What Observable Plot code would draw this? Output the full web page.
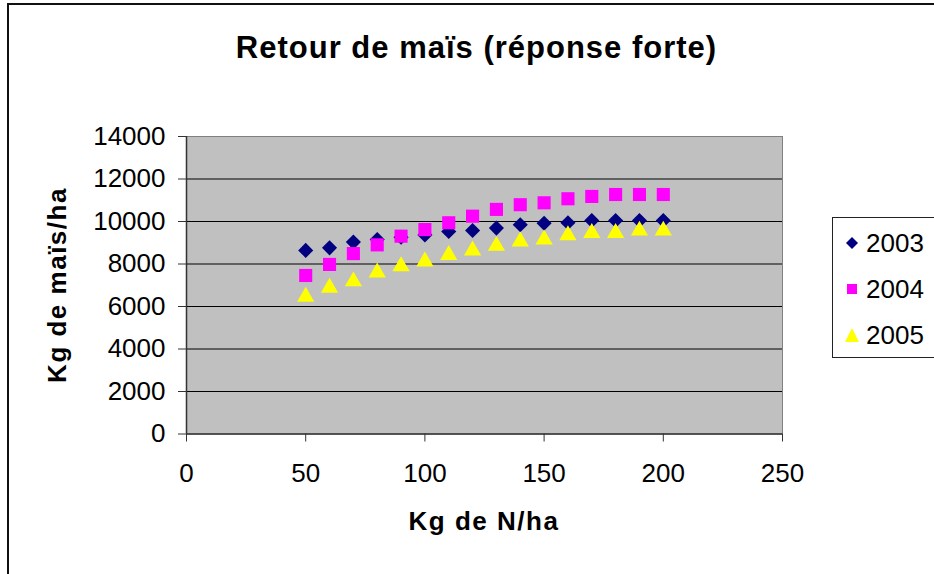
<!DOCTYPE html>
<html>
<head>
<meta charset="utf-8">
<script src="https://cdn.jsdelivr.net/npm/d3@7"></script>
<script src="https://cdn.jsdelivr.net/npm/@observablehq/plot@0.6"></script>
<style>
  html, body { margin: 0; padding: 0; background: #fff; overflow: hidden; }
  #wrap { position: relative; width: 934px; height: 574px; font-family: "Liberation Sans", Arial, sans-serif; }
  #border { position: absolute; left: 7px; top: 3px; width: 1000px; height: 1000px; border-left: 2px solid #111; border-top: 2px solid #111; }
  #title { position: absolute; left: 0; width: 953px; top: 30px; text-align: center; font-weight: bold; font-size: 31px; letter-spacing: 1px; color: #000; }
  #xtitle { position: absolute; left: 0; width: 968px; top: 506px; text-align: center; font-weight: bold; font-size: 26px; letter-spacing: 1.5px; }
  #ytitle { position: absolute; left: 57px; top: 285px; transform: translate(-50%, -50%) rotate(-90deg); white-space: nowrap; font-weight: bold; font-size: 26px; letter-spacing: 1.5px; }
  #legend { position: absolute; left: 832px; top: 217px; width: 120px; height: 139px; border: 1px solid #222; background: #fff; }
  .item { position: absolute; left: 12px; height: 30px; display: flex; align-items: center; font-size: 26px; }
  .item svg { margin-right: 7px; }
  #chart { position: absolute; left: 0; top: 0; }
</style>
</head>
<body>
<div id="wrap">
  <div id="border"></div>
  <div id="chart"></div>
  <div id="title">Retour de maïs (réponse forte)</div>
  <div id="xtitle">Kg de N/ha</div>
  <div id="ytitle">Kg de maïs/ha</div>
  <div id="legend"></div>
</div>
<script>
const nRates = [50, 60, 70, 80, 90, 100, 110, 120, 130, 140, 150, 160, 170, 180, 190, 200];
const years = ["2003", "2004", "2005"];
const y2003 = [8640, 8760, 9030, 9150, 9260, 9370, 9530, 9580, 9690, 9850, 9920, 9940, 10050, 10050, 10050, 10050];
const y2004 = [7460, 7980, 8490, 8900, 9310, 9620, 9940, 10250, 10570, 10790, 10880, 11070, 11180, 11270, 11270, 11270];
const y2005 = [6580, 7000, 7300, 7720, 8010, 8240, 8540, 8750, 8970, 9180, 9270, 9470, 9580, 9580, 9690, 9690];
const xTicks = [0, 50, 100, 150, 200, 250];
const yTicks = [0, 2000, 4000, 6000, 8000, 10000, 12000, 14000];
const gridValues = [2000, 4000, 6000, 8000, 10000, 12000];

const colors = {"2003": "#000080", "2004": "#FF00FF", "2005": "#FFFF00"};
const seriesValues = {"2003": y2003, "2004": y2004, "2005": y2005};
const rows = years.flatMap(yr => nRates.map((n, i) => ({n, v: seriesValues[yr][i], yr})));

const chart = Plot.plot({
  width: 934,
  height: 574,
  marginTop: 136,
  marginBottom: 140.5,
  marginLeft: 186,
  marginRight: 152,
  style: {fontFamily: "'Liberation Sans', Arial, sans-serif", fontSize: "26px", color: "#000", background: "transparent"},
  x: {domain: [0, 250], ticks: xTicks, tickSize: 8, tickPadding: 22, tickFormat: d => String(d), label: null},
  y: {domain: [0, 14000], ticks: yTicks, tickSize: 8, tickPadding: 13, tickFormat: d => String(d), label: null},
  marks: [
    Plot.frame({fill: "#C0C0C0", stroke: "#808080"}),
    Plot.ruleY(gridValues, {stroke: "#000", strokeWidth: 1}),
    Plot.ruleY([0], {stroke: "#333", strokeWidth: 1.5}),
    Plot.ruleX([0], {stroke: "#333", strokeWidth: 1.5}),
    Plot.axisX({ticks: xTicks, tickSize: 8, tickPadding: 22, tickFormat: d => String(d), stroke: "#333", label: null}),
    Plot.axisY({ticks: yTicks, tickSize: 8, tickPadding: 13, tickFormat: d => String(d), stroke: "#333", label: null}),
    Plot.dot(rows.filter(d => d.yr === "2003"), {x: "n", y: "v", symbol: "diamond2", fill: colors["2003"], r: 6.8}),
    Plot.dot(rows.filter(d => d.yr === "2004"), {x: "n", y: "v", symbol: "square", fill: colors["2004"], r: 7.4}),
    Plot.dot(rows.filter(d => d.yr === "2005"), {x: "n", y: "v", symbol: "triangle", fill: colors["2005"], r: 6.4, dy: 2.5})
  ]
});
document.getElementById("chart").appendChild(chart);

// Legend
const legend = document.getElementById("legend");
const symPaths = {
  "2003": `<polygon points="7,1 13,7 7,13 1,7" fill="${colors["2003"]}"/>`,
  "2004": `<rect x="2" y="2" width="10" height="10" fill="${colors["2004"]}"/>`,
  "2005": `<polygon points="7,0 14,14 0,14" fill="${colors["2005"]}"/>`
};
const itemTops = [10, 56, 102];
years.forEach((yr, i) => {
  const div = document.createElement("div");
  div.className = "item";
  div.style.top = itemTops[i] + "px";
  div.innerHTML = `<svg width="14" height="14" viewBox="0 0 14 14">${symPaths[yr]}</svg><span>${yr}</span>`;
  legend.appendChild(div);
});
</script>
</body>
</html>
